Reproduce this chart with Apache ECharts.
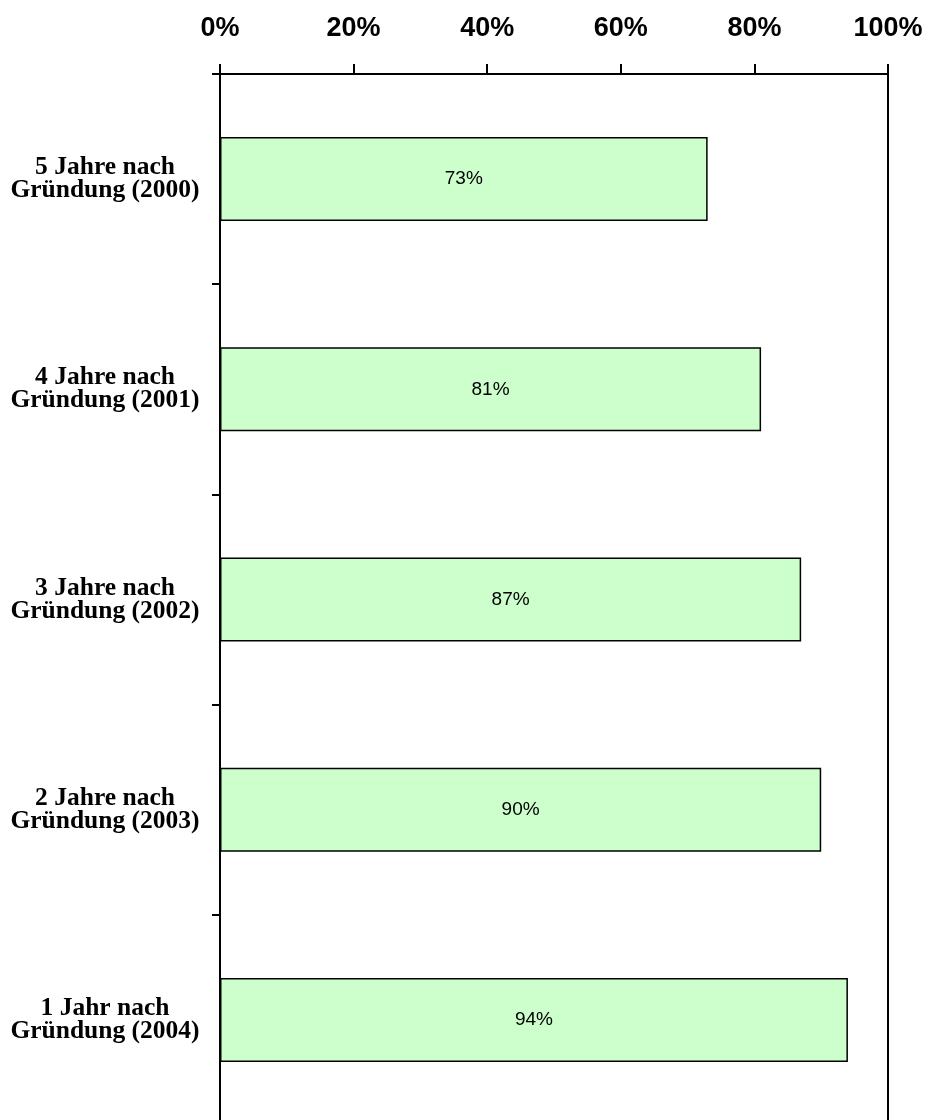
<!DOCTYPE html>
<html>
<head>
<meta charset="utf-8">
<script src="https://cdn.jsdelivr.net/npm/echarts@6/dist/echarts.min.js"></script>
<style>
  html, body { margin: 0; padding: 0; background: #fff; }
  #chart { width: 930px; height: 1120px; }
</style>
</head>
<body>
<div id="chart"></div>
<script>
// Kategorien (von oben nach unten)
const categories = [
  '5 Jahre nach\nGründung (2000)',
  '4 Jahre nach\nGründung (2001)',
  '3 Jahre nach\nGründung (2002)',
  '2 Jahre nach\nGründung (2003)',
  '1 Jahr nach\nGründung (2004)'
];
// Anteil in %
const values = [73, 81, 87, 90, 94];

let chart = echarts.init(document.getElementById('chart'));
let option = {
  animation: false,
  grid: {
    left: 220,
    top: 74,
    width: 668,
    height: 1051,
    outerBoundsMode: 'none',
    containLabel: false,
    show: true,
    borderColor: '#000',
    borderWidth: 2,
    backgroundColor: 'transparent'
  },
  xAxis: {
    type: 'value',
    position: 'top',
    min: 0,
    max: 100,
    interval: 20,
    axisLine: { show: true, lineStyle: { color: '#000', width: 2 } },
    axisTick: { show: true, length: 10, lineStyle: { color: '#000', width: 2 } },
    splitLine: { show: false },
    axisLabel: {
      formatter: '{value}%',
      margin: 32,
      color: '#000',
      fontFamily: 'Liberation Sans',
      fontWeight: 'bold',
      fontSize: 27
    }
  },
  yAxis: {
    type: 'category',
    inverse: true,
    data: categories,
    axisLine: { show: true, lineStyle: { color: '#000', width: 2 } },
    axisTick: { show: true, length: 8, interval: 0, lineStyle: { color: '#000', width: 2 } },
    axisLabel: {
      interval: 0,
      align: 'center',
      margin: 115,
      color: '#000',
      fontFamily: 'Liberation Serif',
      fontWeight: 'bold',
      fontSize: 25.5,
      lineHeight: 23
    }
  },
  series: [
    {
      type: 'bar',
      data: values,
      barWidth: 84,
      itemStyle: {
        color: '#CCFFCC',
        borderColor: '#000',
        borderWidth: 1.5
      },
      label: {
        show: true,
        position: 'inside',
        formatter: '{c}%',
        color: '#000',
        fontFamily: 'Liberation Sans',
        fontSize: 19
      }
    }
  ]
};
chart.setOption(option);
</script>
</body>
</html>
